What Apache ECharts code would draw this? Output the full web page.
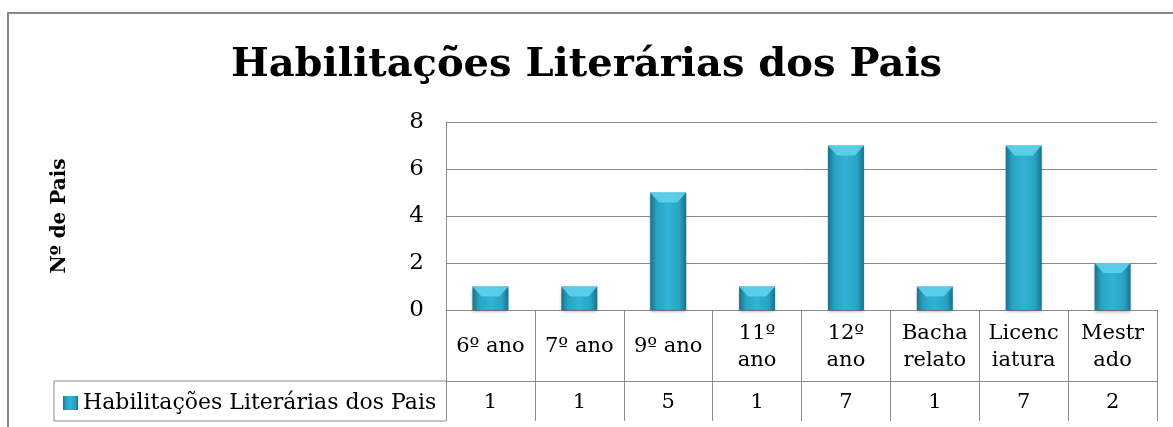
<!DOCTYPE html>
<html>
<head>
<meta charset="utf-8">
<script src="https://cdn.jsdelivr.net/npm/echarts@6/dist/echarts.min.js"></script>
<style>
  html, body { margin: 0; padding: 0; background: #fff; }
  #chart { width: 1173px; height: 427px; }
</style>
</head>
<body>
<div id="chart"></div>
<script>
// dados do gráfico
const categories = ['6º ano', '7º ano', '9º ano', '11º ano', '12º ano', 'Bacharelato', 'Licenciatura', 'Mestrado'];
// rótulos tal como aparecem na tabela (quebrados em duas linhas)
const tickLabels = ['6º ano', '7º ano', '9º ano', '11º\nano', '12º\nano', 'Bacha\nrelato', 'Licenc\niatura', 'Mestr\nado'];
const values = [1, 1, 5, 1, 7, 1, 7, 2];
const seriesName = 'Habilitações Literárias dos Pais';
const yTicks = [0, 2, 4, 6, 8];

const serif = 'DejaVu Serif';
const lineGray = '#8a8a8a';

const chart = echarts.init(document.getElementById('chart'));

chart.setOption({
    animation: false,
    title: {
        text: 'Habilitações Literárias dos Pais',
        left: 'center',
        top: 41,
        textStyle: { fontFamily: serif, fontSize: 40, fontWeight: 'bold', color: '#000' }
    },
    legend: {
        data: [{ name: seriesName, icon: 'rect' }],
        left: 58,
        top: 387,
        itemWidth: 15,
        itemHeight: 14,
        textStyle: { fontFamily: serif, fontSize: 22, color: '#000' }
    },
    grid: { left: 446, right: 16, top: 122, bottom: 117 },
    xAxis: [
        {
            type: 'category',
            data: tickLabels,
            axisLine: { show: true, lineStyle: { color: lineGray } },
            axisTick: { show: true, length: 71, lineStyle: { color: lineGray } },
            axisLabel: {
                margin: 37,
                verticalAlign: 'middle',
                lineHeight: 27,
                fontFamily: serif,
                fontSize: 21,
                color: '#000',
                interval: 0
            }
        },
        {
            type: 'category',
            position: 'bottom',
            offset: 71,
            data: values.map(String),
            axisLine: { show: true, lineStyle: { color: lineGray } },
            axisTick: { show: true, length: 40, lineStyle: { color: lineGray } },
            axisLabel: {
                margin: 22,
                verticalAlign: 'middle',
                fontFamily: serif,
                fontSize: 21,
                color: '#000',
                interval: 0
            }
        }
    ],
    yAxis: {
        type: 'value',
        min: yTicks[0],
        max: yTicks[yTicks.length - 1],
        interval: 2,
        name: 'Nº de Pais',
        nameLocation: 'middle',
        nameRotate: 90,
        nameGap: 376,
        nameTextStyle: { fontFamily: serif, fontSize: 20, fontWeight: 'bold', color: '#000' },
        axisLine: { show: true, lineStyle: { color: lineGray } },
        axisTick: { show: false },
        splitLine: { lineStyle: { color: lineGray } },
        axisLabel: { fontFamily: serif, fontSize: 23, color: '#000', margin: 22 }
    },
    series: [
        {
            name: seriesName,
            type: 'bar',
            data: values,
            barWidth: 36,
            itemStyle: {
                color: new echarts.graphic.LinearGradient(0, 0, 1, 0, [
                    { offset: 0, color: '#1b7189' },
                    { offset: 0.18, color: '#28a2c2' },
                    { offset: 0.5, color: '#31b3d5' },
                    { offset: 0.82, color: '#28a2c2' },
                    { offset: 1, color: '#1b7189' }
                ]),
                shadowColor: 'rgba(0,0,0,0.3)',
                shadowBlur: 3,
                shadowOffsetY: 2
            }
        },
        {
            // chanfro claro no topo das barras
            name: seriesName,
            type: 'pictorialBar',
            data: values,
            symbol: 'path://M0,0 L12,0 L9,3 L3,3 Z',
            symbolSize: [36, 10],
            symbolPosition: 'end',
            symbolOffset: [0, 0],
            itemStyle: { color: '#5fd0ea', opacity: 0.9 },
            z: 3,
            legendHoverLink: false
        }
    ],
    graphic: [
        // moldura exterior
        { type: 'rect', shape: { x: 8, y: 13, width: 1180, height: 430 }, style: { fill: null, stroke: '#888', lineWidth: 2 } },
        // linhas da tabela de dados
        { type: 'line', shape: { x1: 54, y1: 381, x2: 446, y2: 381 }, style: { stroke: lineGray, lineWidth: 1 } },
        { type: 'line', shape: { x1: 54, y1: 421, x2: 446, y2: 421 }, style: { stroke: lineGray, lineWidth: 1 } },
        { type: 'line', shape: { x1: 54, y1: 381, x2: 54, y2: 421 }, style: { stroke: lineGray, lineWidth: 1 } }
    ]
});

window.addEventListener('resize', function () {
    chart.resize();
});
</script>
</body>
</html>
